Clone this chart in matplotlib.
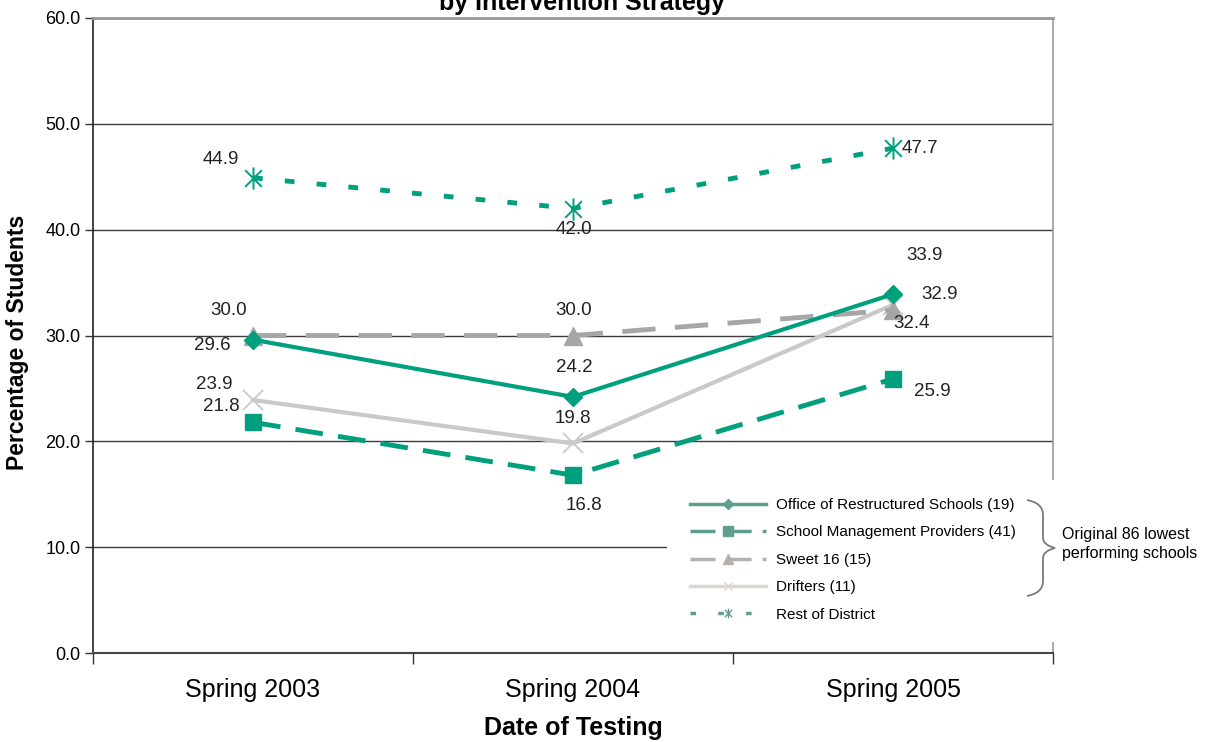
import numpy as np
import matplotlib
matplotlib.use("Agg")
import matplotlib.pyplot as plt
from matplotlib.lines import Line2D
from matplotlib.patches import Rectangle, PathPatch
from matplotlib.path import Path

plt.rcParams['font.family'] = ['Liberation Sans', 'DejaVu Sans']
plt.rcParams['lines.scale_dashes'] = False

# data
dates = ['Spring 2003', 'Spring 2004', 'Spring 2005']
office = [29.6, 24.2, 33.9]
smp = [21.8, 16.8, 25.9]
sweet16 = [30.0, 30.0, 32.4]
drifters = [23.9, 19.8, 32.9]
rest = [44.9, 42.0, 47.7]
legend_names = ['Office of Restructured Schools (19)', 'School Management Providers (41)',
                'Sweet 16 (15)', 'Drifters (11)', 'Rest of District']

W, H = 1208, 742
TEAL = '#00A07E'
GRAY = '#A6A6A6'
LIGHT = '#C9C9C9'

fig = plt.figure(figsize=(W / 100, H / 100), dpi=100)
ax = fig.add_axes([93 / W, (H - 653) / H, 960 / W, 635 / H])

x = np.arange(len(dates))
# asterisk: vertical stroke plus an X
star = Path([(0, -1), (0, 1), (-0.75, -0.75), (0.75, 0.75), (-0.75, 0.75), (0.75, -0.75)],
            [Path.MOVETO, Path.LINETO, Path.MOVETO, Path.LINETO, Path.MOVETO, Path.LINETO])

ax.plot(x, rest, color=TEAL, lw=3.5, dashes=(7, 16), marker=star, ms=16, mew=1.4,
        mec=TEAL, zorder=3)
ax.plot(x, drifters, color=LIGHT, lw=3, marker='x', ms=15, mew=1.3, zorder=3)
ax.plot(x, sweet16, color=GRAY, lw=3.5, dashes=(24, 14), marker='^', ms=13, zorder=4)
ax.plot(x, office, color=TEAL, lw=3, marker='D', ms=9, zorder=5)
ax.plot(x, smp, color=TEAL, lw=3.5, dashes=(20, 11), marker='s', ms=12, zorder=5)

# value labels, offsets in pixels
label_offsets = {
    'rest': [(-32, 18), (1, -21), (27, 0)],
    'sweet16': [(-24, 25), (1, 25), (19, -13)],
    'office': [(-41, -6), (1, 29), (32, 39)],
    'drifters': [(-39, 16), (0, 25), (47, 10)],
    'smp': [(-32, 16), (11, -30), (39, -13)],
}
series = {'rest': rest, 'sweet16': sweet16, 'office': office,
          'drifters': drifters, 'smp': smp}
for key, vals in series.items():
    for xi, v, off in zip(x, vals, label_offsets[key]):
        ax.annotate(f'{v:.1f}', (xi, v), xytext=off, textcoords='offset pixels',
                    ha='center', va='center', fontsize=13.5, color='#222222', zorder=6)

ax.set_xlim(-0.5, 2.5)
ax.set_ylim(0, 60)
ax.set_yticks(np.arange(0, 61, 10))
ax.set_yticklabels([f'{t:.1f}' for t in np.arange(0, 61, 10)], fontsize=13)
ax.yaxis.grid(True, color='#3c3c3c', lw=1)
ax.set_axisbelow(True)
ax.tick_params(axis='y', length=6, width=1, color='#333333', pad=3)

ax.set_xticks([-0.5, 0.5, 1.5, 2.5])
ax.set_xticklabels([])
ax.set_xticks(x, minor=True)
ax.set_xticklabels(dates, minor=True, fontsize=18)
ax.tick_params(axis='x', which='major', length=8, width=1, color='#333333')
ax.tick_params(axis='x', which='minor', length=0, pad=18)

ax.spines['left'].set_color('#222222')
ax.spines['left'].set_linewidth(1.2)
ax.spines['bottom'].set_color('#444444')
ax.spines['bottom'].set_linewidth(1.5)
ax.spines['top'].set_color('#999999')
ax.spines['top'].set_linewidth(2)
ax.spines['right'].set_color('#999999')
ax.spines['right'].set_linewidth(1.2)

ax.set_xlabel('Date of Testing', fontsize=18, fontweight='bold', labelpad=10)
fig.text(18 / W, 1 - 342 / H, 'Percentage of Students', rotation=90, fontsize=16.5,
         fontweight='bold', ha='center', va='center')

# title, mostly above the top edge
fig.text(582 / W, 1 - 10 / H, 'by Intervention Strategy', fontsize=18,
         fontweight='bold', ha='center', va='baseline')

# legend area
fig.patches.append(Rectangle((667 / W, 1 - 642 / H), (W - 667) / W, 162 / H,
                             transform=fig.transFigure, facecolor='white',
                             edgecolor='none', zorder=1))
LTEAL = '#5E9E90'
handles = [
    Line2D([], [], color=LTEAL, lw=2.5, marker='D', ms=5),
    Line2D([], [], color=LTEAL, lw=2.5, marker='s', ms=7, dashes=(18, 8)),
    Line2D([], [], color='#B5AFAD', lw=2.5, marker='^', ms=7, dashes=(18, 8)),
    Line2D([], [], color='#DAD6D3', lw=2.5, marker='x', ms=6),
    Line2D([], [], color=LTEAL, lw=2.5, marker=star, ms=7, mew=1, dashes=(4, 16)),
]
leg = fig.legend(handles, legend_names, loc='upper left',
                 bbox_to_anchor=(690 / W, 1 - 498 / H), frameon=False,
                 fontsize=11, handlelength=5.0, handletextpad=0.6,
                 labelspacing=0.88, borderpad=0, borderaxespad=0)
leg.set_zorder(2)

# brace grouping the first four entries
bx = [1027, 1043, 1043, 1043, 1043, 1055, 1043, 1043, 1043, 1043, 1027]
by = [500, 503, 515, 538, 545, 548, 551, 558, 581, 593, 596]
codes = [Path.MOVETO, Path.CURVE3, Path.CURVE3, Path.LINETO, Path.CURVE3, Path.CURVE3,
         Path.CURVE3, Path.CURVE3, Path.LINETO, Path.CURVE3, Path.CURVE3]
verts = [(a / W, 1 - b / H) for a, b in zip(bx, by)]
fig.patches.append(PathPatch(Path(verts, codes), transform=fig.transFigure,
                             facecolor='none', edgecolor='#7a7a7a', lw=1.3, zorder=3))
fig.text(1062 / W, 1 - 544 / H, 'Original 86 lowest\nperforming schools',
         fontsize=11.5, ha='left', va='center', linespacing=1.3, zorder=3)

fig.savefig('out.png', dpi=100)
